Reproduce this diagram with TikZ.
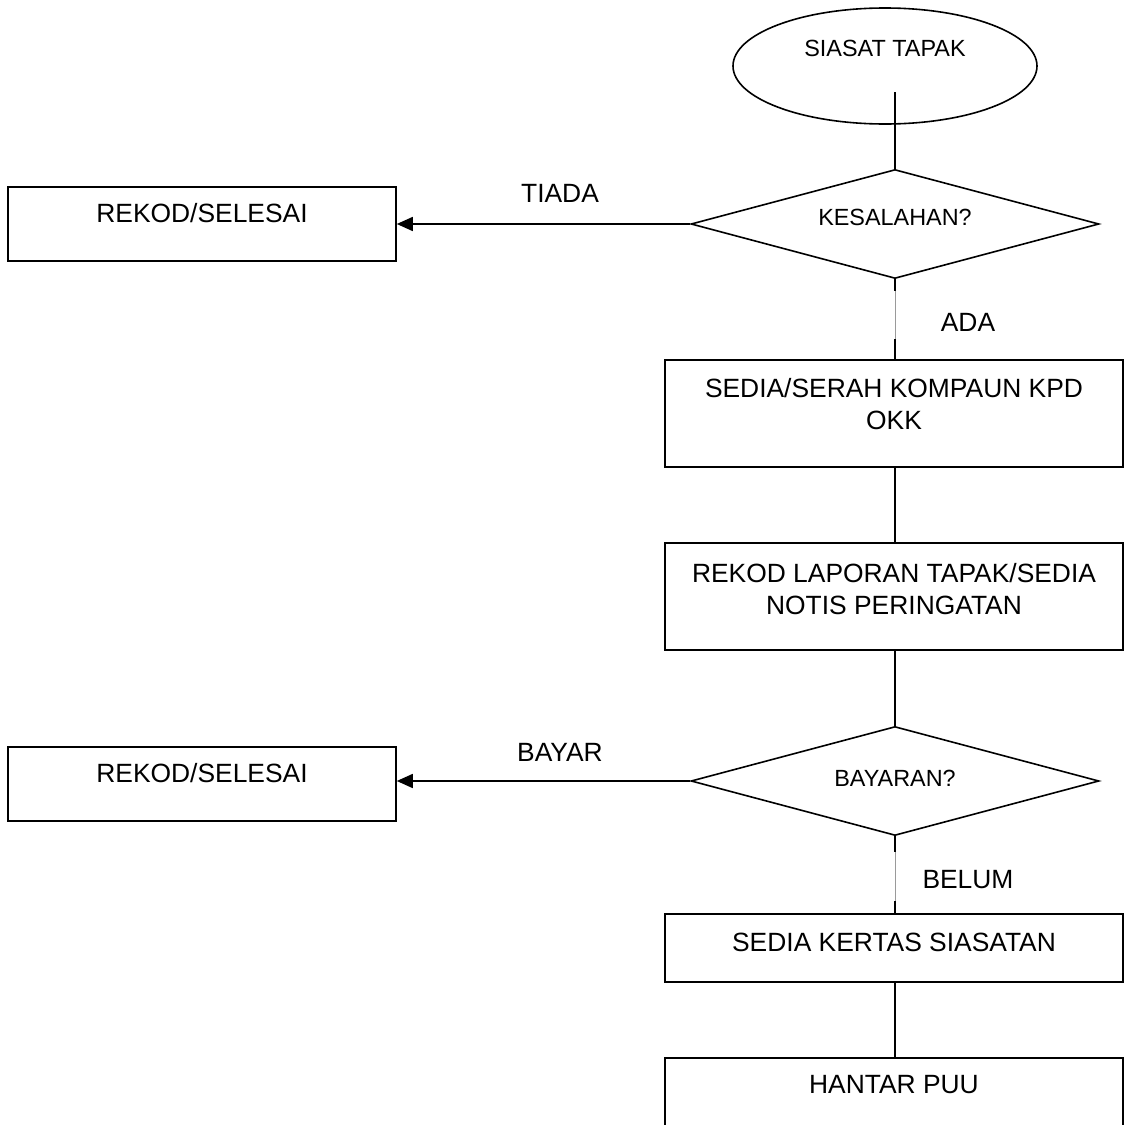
\documentclass[tikz,border=0pt]{standalone}
\usepackage{fontspec}
\setmainfont{Liberation Sans}
\usepackage{xcolor}
\usepackage{tikz}
\usetikzlibrary{arrows.meta,shapes.geometric,positioning}
\definecolor{ink}{HTML}{000000}
\definecolor{faint}{HTML}{9A9A9A}
\tikzset{
  conn/.style={draw=ink, line width=0.8pt},
  thinconn/.style={draw=faint, line width=0.3pt},
  arr/.style={conn, -{Triangle[length=8pt,width=7pt]}},
  box/.style={draw=ink, line width=0.8pt, rectangle, inner sep=0pt},
  oval/.style={draw=ink, line width=0.8pt, ellipse, inner sep=0pt, minimum width=152pt, minimum height=58pt},
  decide/.style={draw=ink, line width=0.8pt, diamond, inner sep=0pt, minimum width=204pt, minimum height=54.5pt},
  lab/.style={text=ink, font=\fontsize{13.2}{16}\selectfont, align=center, inner sep=0pt},
  labs/.style={text=ink, font=\fontsize{11.7}{14}\selectfont, align=center, inner sep=0pt},
}

\begin{document}
\begin{tikzpicture}[x=0.5pt,y=-0.5pt]
\useasboundingbox (0,0) rectangle (1132,1125);
% shapes
\node[oval, label={[labs,yshift=9pt]center:SIASAT TAPAK}] (start) at (885,66) {};
\node[decide, label={[labs,yshift=3.5pt]center:KESALAHAN?}] (kes) at (895,224) {};
\node[box, minimum width=194pt, minimum height=37pt, label={[lab,yshift=5.5pt]center:REKOD/SELESAI}] (rek1) at (202,224) {};
\node[box, minimum width=229pt, minimum height=53.5pt, label={[lab,yshift=4.75pt]center:SEDIA/SERAH KOMPAUN KPD\\OKK}] (sed) at (894,413.5) {};
\node[box, minimum width=229pt, minimum height=53.5pt, label={[lab,yshift=3.75pt]center:REKOD LAPORAN TAPAK/SEDIA\\NOTIS PERINGATAN}] (rep) at (894,596.5) {};
\node[decide, label={[labs,yshift=1.5pt]center:BAYARAN?}] (bay) at (895,781) {};
\node[box, minimum width=194pt, minimum height=37pt, label={[lab,yshift=5.5pt]center:REKOD/SELESAI}] (rek2) at (202,784) {};
\node[box, minimum width=229pt, minimum height=34pt, label={[lab,yshift=3pt]center:SEDIA KERTAS SIASATAN}] (ker) at (894,948) {};
\node[box, minimum width=229pt, minimum height=37pt, label={[lab,yshift=5pt]center:HANTAR PUU}] (han) at (894,1095) {};

% branch labels
\node[lab] (tiada) at (560,193) {TIADA};
\node[lab] (ada) at (968,322) {ADA};
\node[lab] (bayar) at (560,752) {BAYAR};
\node[lab] (belum) at (968,880) {BELUM};

% connectors
\coordinate (s0) at (895,92);
\draw[conn] (s0) -- (kes.north);
\draw[arr] (kes.west) -- (rek1.east);
\draw[thinconn] (kes.south) -- (kes.south |- sed.north);
\draw[conn] (kes.south) -- ++(0,12);
\draw[conn] (kes.south |- sed.north) -- ++(0,-20);
\draw[conn] (kes.south |- sed.south) -- (kes.south |- rep.north);
\draw[conn] (bay.north |- rep.south) -- (bay.north);
\draw[arr] (bay.west) -- (bay.west -| rek2.east);
\draw[thinconn] (bay.south) -- (bay.south |- ker.north);
\draw[conn] (bay.south) -- ++(0,16);
\draw[conn] (bay.south |- ker.north) -- ++(0,-12);
\draw[conn] (bay.south |- ker.south) -- (bay.south |- han.north);
\end{tikzpicture}
\end{document}
